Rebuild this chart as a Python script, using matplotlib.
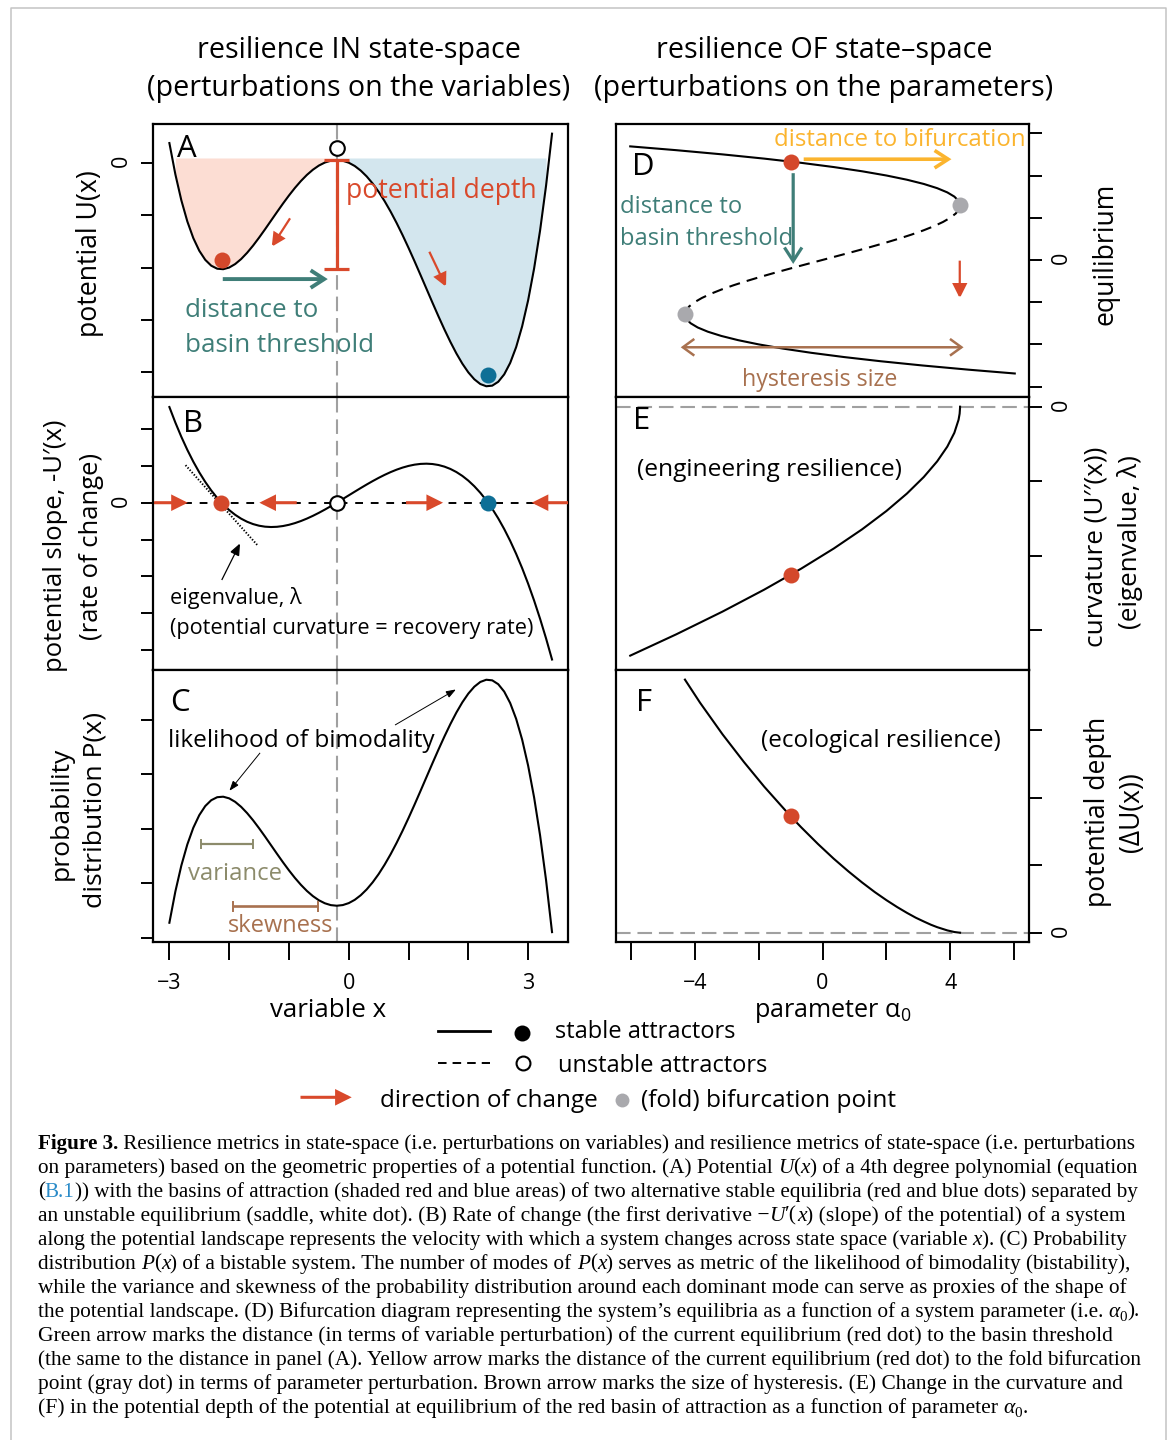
import matplotlib
matplotlib.use("Agg")
import matplotlib.pyplot as plt

plt.rcParams['font.family'] = ['Open Sans', 'DejaVu Sans']
plt.rcParams['mathtext.fontset'] = 'custom'
plt.rcParams['mathtext.rm'] = 'Open Sans'
plt.rcParams['mathtext.it'] = 'Open Sans:italic'
plt.rcParams['mathtext.bf'] = 'Open Sans:bold'

# ---------------------------------------------------------------- data
# state variable x (panels A-C)
x_state = [-3.0, -2.9, -2.8, -2.7, -2.6, -2.5, -2.4, -2.3, -2.2, -2.1,
           -2.0, -1.9, -1.8, -1.7, -1.6, -1.5, -1.4, -1.3, -1.2, -1.1,
           -1.0, -0.9, -0.8, -0.7, -0.6, -0.5, -0.4, -0.3, -0.2, -0.1,
           0.0, 0.1, 0.2, 0.3, 0.4, 0.5, 0.6, 0.7, 0.8, 0.9,
           1.0, 1.1, 1.2, 1.3, 1.4, 1.5, 1.6, 1.7, 1.8, 1.9,
           2.0, 2.1, 2.2, 2.3, 2.4, 2.5, 2.6, 2.7, 2.8, 2.9,
           3.0, 3.1, 3.2, 3.3, 3.4]
# A: potential U(x)
potential_U = [0.750, -0.443, -1.434, -2.239, -2.876, -3.359, -3.706, -3.929, -4.044, -4.063,
               -4.000, -3.867, -3.676, -3.437, -3.162, -2.859, -2.540, -2.211, -1.882, -1.559,
               -1.250, -0.961, -0.698, -0.465, -0.268, -0.109, 0.006, 0.077, 0.100, 0.075,
               0.000, -0.125, -0.300, -0.523, -0.794, -1.109, -1.468, -1.865, -2.298, -2.761,
               -3.250, -3.759, -4.282, -4.811, -5.340, -5.859, -6.362, -6.837, -7.276, -7.667,
               -8.000, -8.263, -8.444, -8.529, -8.506, -8.359, -8.076, -7.639, -7.034, -6.243,
               -5.250, -4.037, -2.586, -0.877, 1.108]
# B: rate of change -U'(x)
rate_of_change = [13.000, 10.889, 8.952, 7.183, 5.576, 4.125, 2.824, 1.667, 0.648, -0.239,
                  -1.000, -1.641, -2.168, -2.587, -2.904, -3.125, -3.256, -3.303, -3.272, -3.169,
                  -3.000, -2.771, -2.488, -2.157, -1.784, -1.375, -0.936, -0.473, 0.008, 0.501,
                  1.000, 1.499, 1.992, 2.473, 2.936, 3.375, 3.784, 4.157, 4.488, 4.771,
                  5.000, 5.169, 5.272, 5.303, 5.256, 5.125, 4.904, 4.587, 4.168, 3.641,
                  3.000, 2.239, 1.352, 0.333, -0.824, -2.125, -3.576, -5.183, -6.952, -8.889,
                  -11.000, -13.291, -15.768, -18.437, -21.304]
# C: probability distribution P(x) (arbitrary units)
probability_P = [-0.750, 0.443, 1.434, 2.239, 2.876, 3.359, 3.706, 3.929, 4.044, 4.063,
                 4.000, 3.867, 3.676, 3.437, 3.162, 2.859, 2.540, 2.211, 1.882, 1.559,
                 1.250, 0.961, 0.698, 0.465, 0.268, 0.109, -0.006, -0.077, -0.100, -0.075,
                 0.000, 0.125, 0.300, 0.523, 0.794, 1.109, 1.468, 1.865, 2.298, 2.761,
                 3.250, 3.759, 4.282, 4.811, 5.340, 5.859, 6.362, 6.837, 7.276, 7.667,
                 8.000, 8.263, 8.444, 8.529, 8.506, 8.359, 8.076, 7.639, 7.034, 6.243,
                 5.250, 4.037, 2.586, 0.877, -1.108]
equilibria_x = [-2.13, -0.20, 2.33]          # red stable, saddle, blue stable
U_saddle = 0.10
U_red_min = -4.07
basin_rim = 0.18

# D: bifurcation diagram (equilibrium vs parameter alpha0)
upper_eq = [1.291, 1.35, 1.4, 1.5, 1.6, 1.7, 1.8, 1.9, 2.0, 2.1, 2.2, 2.3, 2.4, 2.5, 2.6, 2.69]
upper_alpha = [4.303, 4.290, 4.256, 4.125, 3.904, 3.587, 3.168, 2.641, 2.000, 1.239, 0.352,
               -0.667, -1.824, -3.125, -4.576, -6.015]
middle_eq = [-1.291, -1.2, -1.1, -1.0, -0.9, -0.8, -0.7, -0.6, -0.5, -0.4, -0.3, -0.2, -0.1, 0.0,
             0.1, 0.2, 0.3, 0.4, 0.5, 0.6, 0.7, 0.8, 0.9, 1.0, 1.1, 1.2, 1.291]
middle_alpha = [-4.303, -4.272, -4.169, -4.000, -3.771, -3.488, -3.157, -2.784, -2.375, -1.936,
                -1.473, -0.992, -0.499, 0.000, 0.499, 0.992, 1.473, 1.936, 2.375, 2.784,
                3.157, 3.488, 3.771, 4.000, 4.169, 4.272, 4.303]
lower_eq = [-1.291, -1.35, -1.4, -1.5, -1.6, -1.7, -1.8, -1.9, -2.0, -2.1, -2.2, -2.3, -2.4, -2.5,
            -2.6, -2.69]
lower_alpha = [-4.303, -4.290, -4.256, -4.125, -3.904, -3.587, -3.168, -2.641, -2.000, -1.239,
               -0.352, 0.667, 1.824, 3.125, 4.576, 6.015]
fold_alpha = [4.30, -4.30]
fold_eq = [1.29, -1.29]
current_alpha = -1.0
current_eq = 2.33

# E: curvature (eigenvalue) at the red equilibrium
curv_alpha = [4.303, 4.303, 4.290, 4.256, 4.125, 3.904, 3.587, 3.168, 2.641, 2.000, 1.239,
              0.352, -0.667, -1.824, -3.125, -4.576, -6.015]
curv_lambda = [0.00, -0.07, -0.47, -0.88, -1.75, -2.68, -3.67, -4.72, -5.83, -7.00, -8.23,
               -9.52, -10.87, -12.28, -13.75, -15.28, -16.71]
current_lambda = -11.29

# F: potential depth of the red basin
depth_alpha = [-4.303, -3.831, -3.125, -2.456, -1.824, -0.999, -0.667, -0.141, 0.352, 0.812,
               1.239, 1.635, 2.000, 2.335, 2.641, 2.918, 3.168, 3.391, 3.587, 3.904, 4.125,
               4.256, 4.303]
depth_dU = [18.75, 17.04, 14.69, 12.64, 10.82, 8.63, 7.81, 6.57, 5.48, 4.54, 3.72, 3.01, 2.41,
            1.90, 1.47, 1.11, 0.83, 0.59, 0.41, 0.17, 0.05, 0.01, 0.00]
current_depth = 8.63

# ---------------------------------------------------------------- style
RED = '#D4482B'
REDA = '#D9492B'
BLUE = '#0E6F96'
GRAYDOT = '#A9A9AD'
GREEN = '#3F7E78'
YELLOW = '#FBB42E'
BROWN = '#A8714F'
OLIVE = '#8C8B6B'
PINK = '#FCDDD3'
LBLUE = '#D3E6EE'
DASHGRAY = '#A0A0A0'
LINK = '#2A8BC8'
SANS = ['Open Sans', 'DejaVu Sans']
SERIF = ['Liberation Serif', 'DejaVu Serif']
TICKFS = 15.5

W, H = 1170, 1440
fig = plt.figure(figsize=(W / 100, H / 100), dpi=100)
fig.patch.set_facecolor('white')
renderer = fig.canvas.get_renderer()


def add_ax(x0, y0, x1, y1):
    ax = fig.add_axes([x0 / W, 1 - y1 / H, (x1 - x0) / W, (y1 - y0) / H])
    for sp in ax.spines.values():
        sp.set_linewidth(1.6)
    ax.set_xticks([])
    ax.set_yticks([])
    return ax


def left_ticks(ax, ticks, labels):
    ax.set_yticks(ticks)
    ax.set_yticklabels(labels)
    ax.tick_params(axis='y', direction='out', length=8.6, width=1.4, pad=6.3,
                   labelsize=TICKFS, labelrotation=90)


def right_ticks(ax, ticks, labels):
    ax.yaxis.tick_right()
    ax.set_yticks(ticks)
    ax.set_yticklabels(labels)
    ax.tick_params(axis='y', direction='out', length=9, width=1.4, pad=6.6,
                   labelsize=TICKFS, labelrotation=90)


def bottom_ticks(ax, ticks, labels):
    ax.set_xticks(ticks)
    ax.set_xticklabels(labels)
    ax.tick_params(axis='x', direction='out', length=13, width=1.4, pad=9.6, labelsize=TICKFS)


def arrow(ax, tail, head, color, lw, style, ms, z=5):
    ax.annotate('', xy=head, xytext=tail, zorder=z, annotation_clip=False,
                arrowprops=dict(arrowstyle=style, color=color, lw=lw, shrinkA=0, shrinkB=0,
                                mutation_scale=ms, joinstyle='miter', capstyle='butt'))


FILLED = '-|>,head_length=0.6,head_width=0.3'
CHEV = '->,head_length=0.65,head_width=0.42'
VDASH = (0, (7, 3.3))

LEFT = (153, 568)
RIGHT = (616, 1029)
ROWS = [(124, 396.5), (396.5, 669.5), (669.5, 942)]
XLIM_STATE = (-3.274, 3.667)
XLIM_PAR = (-6.46, 6.46)

# ---------------------------------------------------------------- panel A
axA = add_ax(LEFT[0], ROWS[0][0], LEFT[1], ROWS[0][1])
axA.set_xlim(*XLIM_STATE)
axA.set_ylim(-8.92, 1.477)
axA.fill_between(x_state[1:29], potential_U[1:29], basin_rim, color=PINK, lw=0, zorder=1)
axA.fill_between(x_state[28:64], potential_U[28:64], basin_rim, color=LBLUE, lw=0, zorder=1)
axA.axvline(equilibria_x[1], color=DASHGRAY, lw=1.5, ls=VDASH, zorder=2)
axA.plot(x_state, potential_U, color='k', lw=1.5, zorder=3)
sx = equilibria_x[1]
axA.plot([sx, sx], [U_saddle, U_red_min], color=REDA, lw=2.3, zorder=4, solid_capstyle='butt')
for yy in (U_saddle, U_red_min):
    axA.plot([sx - 0.21, sx + 0.21], [yy, yy], color=REDA, lw=2.3, zorder=4,
             solid_capstyle='butt')
axA.plot(sx, 0.56, 'o', ms=10.5, mfc='white', mec='k', mew=1.5, zorder=6)
axA.plot(-2.124, -3.71, 'o', ms=11.5, color=RED, mew=0, zorder=6)
axA.plot(2.334, -8.10, 'o', ms=11.5, color=BLUE, mew=0, zorder=6)
arrow(axA, (-0.982, -2.122), (-1.288, -3.206), REDA, 1.6, FILLED, 13)
arrow(axA, (1.348, -3.397), (1.627, -4.733), REDA, 1.6, FILLED, 13)
arrow(axA, (-2.107, -4.44), (-0.351, -4.44), GREEN, 2.8, CHEV, 15)
left_ticks(axA, [0, -2, -4, -6, -8], ['0', '', '', '', ''])

# ---------------------------------------------------------------- panel B
axB = add_ax(LEFT[0], ROWS[1][0], LEFT[1], ROWS[1][1])
axB.set_xlim(*XLIM_STATE)
axB.set_ylim(-22.66, 14.43)
axB.axvline(sx, color=DASHGRAY, lw=1.5, ls=VDASH, zorder=1)
axB.axhline(0, color='k', lw=1.4, ls=(0, (4, 4)), zorder=2)
axB.plot(x_state, rate_of_change, color='k', lw=1.5, zorder=3)
axB.plot([-2.73, -1.53], [5.1, -5.75], color='k', lw=1.4, ls=(0, (0.7, 0.9)), zorder=3)
BSTY = '-|>,head_length=0.56,head_width=0.28'
arrow(axB, (-3.256, 0), (-2.692, 0), REDA, 2.2, BSTY, 15)
arrow(axB, (-0.870, 0), (-1.495, 0), REDA, 2.2, BSTY, 15)
arrow(axB, (0.958, 0), (1.577, 0), REDA, 2.2, BSTY, 15)
arrow(axB, (3.667, 0), (3.060, 0), REDA, 2.2, BSTY, 15)
axB.plot(equilibria_x[0], 0, 'o', ms=11.5, color=RED, mew=0, zorder=6)
axB.plot(equilibria_x[1], 0, 'o', ms=10.5, mfc='white', mec='k', mew=1.5, zorder=6)
axB.plot(equilibria_x[2], 0, 'o', ms=11.5, color=BLUE, mew=0, zorder=6)
arrow(axB, (-2.124, -10.5), (-1.818, -5.52), 'k', 0.9, '-|>,head_length=0.6,head_width=0.25', 12)
left_ticks(axB, [10, 5, 0, -5, -10, -15, -20], ['', '', '0', '', '', '', ''])

# ---------------------------------------------------------------- panel C
axC = add_ax(LEFT[0], ROWS[2][0], LEFT[1], ROWS[2][1])
axC.set_xlim(*XLIM_STATE)
axC.set_ylim(-1.485, 8.92)
axC.axvline(sx, color=DASHGRAY, lw=1.5, ls=VDASH, zorder=1)
axC.plot(x_state, probability_P, color='k', lw=1.5, zorder=3)
THIN = '-|>,head_length=0.5,head_width=0.18'
arrow(axC, (-1.483, 5.737), (-1.997, 4.286), 'k', 0.7, THIN, 12)
arrow(axC, (0.774, 6.80), (1.794, 8.16), 'k', 0.7, THIN, 12)
for (xa, xb, yy, col, lw) in [(-2.475, -1.595, 2.256, OLIVE, 1.6), (-1.940, -0.508, -0.122, BROWN, 1.9)]:
    axC.plot([xa, xb], [yy, yy], color=col, lw=lw, solid_capstyle='butt', zorder=4)
    for xe in (xa, xb):
        axC.plot([xe, xe], [yy - 0.17, yy + 0.17], color=col, lw=1.4, zorder=4)
left_ticks(axC, [7.0, 4.92, 2.84, 0.76, -1.32], ['', '', '', '', ''])
bottom_ticks(axC, [-3, -2, -1, 0, 1, 2, 3], ['\u22123', '', '', '0', '', '', '3'])

# ---------------------------------------------------------------- panel D
axD = add_ax(RIGHT[0], ROWS[0][0], RIGHT[1], ROWS[0][1])
axD.set_xlim(*XLIM_PAR)
axD.set_ylim(-3.235, 3.22)
axD.plot(upper_alpha, upper_eq, color='k', lw=1.5, zorder=3)
axD.plot(middle_alpha, middle_eq, color='k', lw=1.5, ls=(0, (5.3, 3.4)), zorder=3)
axD.plot(lower_alpha, lower_eq, color='k', lw=1.5, zorder=3)
arrow(axD, (-0.588, 2.386), (4.034, 2.386), YELLOW, 2.6, CHEV, 15)
arrow(axD, (-0.917, 2.055), (-0.917, -0.095), GREEN, 2.3, CHEV, 15)
arrow(axD, (4.294, -0.017), (4.294, -0.908), REDA, 1.6, FILLED, 14)
arrow(axD, (-4.435, -2.069), (4.413, -2.069), BROWN, 1.8, '<->,head_length=0.55,head_width=0.4', 15)
axD.plot(current_alpha, current_eq, 'o', ms=11.5, color=RED, mew=0, zorder=6)
axD.plot(fold_alpha, fold_eq, 'o', ms=11.5, color=GRAYDOT, mew=0, ls='none', zorder=6)
right_ticks(axD, [-3, -2, -1, 0, 1, 2, 3], ['', '', '', '0', '', '', ''])

# ---------------------------------------------------------------- panel E
axE = add_ax(RIGHT[0], ROWS[1][0], RIGHT[1], ROWS[1][1])
axE.set_xlim(*XLIM_PAR)
axE.set_ylim(-17.64, 0.685)
axE.axhline(0, color=DASHGRAY, lw=1.5, ls=VDASH, zorder=1)
axE.plot(curv_alpha, curv_lambda, color='k', lw=1.5, zorder=3)
axE.plot(current_alpha, current_lambda, 'o', ms=11.5, color=RED, mew=0, zorder=6)
right_ticks(axE, [0, -5, -10, -15], ['0', '', '', ''])

# ---------------------------------------------------------------- panel F
axF = add_ax(RIGHT[0], ROWS[2][0], RIGHT[1], ROWS[2][1])
axF.set_xlim(*XLIM_PAR)
axF.set_ylim(-0.69, 19.5)
axF.axhline(0, color=DASHGRAY, lw=1.5, ls=VDASH, zorder=1)
axF.plot(depth_alpha, depth_dU, color='k', lw=1.5, zorder=3)
axF.plot(current_alpha, current_depth, 'o', ms=11.5, color=RED, mew=0, zorder=6)
right_ticks(axF, [0, 5, 10, 15], ['0', '', '', ''])
bottom_ticks(axF, [-6, -4, -2, 0, 2, 4, 6], ['', '\u22124', '', '0', '', '4', ''])

# ---------------------------------------------------------------- overlay (pixel coords)
ov = fig.add_axes([0, 0, 1, 1])
ov.set_xlim(0, W)
ov.set_ylim(H, 0)
ov.axis('off')


def text_w(s, fs, **kw):
    t = ov.text(0, 0, s, fontsize=fs, **kw)
    w = t.get_window_extent(renderer).width
    t.remove()
    return w


def fit_size(s, width, **kw):
    return 20.0 * width / text_w(s, 20.0, **kw)


def put(s, x, base, fs, color='k', ha='left', **kw):
    return ov.text(x, base, s, fontsize=fs, color=color, ha=ha, va='baseline', **kw)


def put_fit(s, x0, x1, base, color='k', **kw):
    fs = fit_size(s, x1 - x0, **kw)
    put(s, x0, base, fs, color, **kw)
    return fs


def vput(s, cx, y0, y1, fs=None, color='k'):
    if fs is None:
        fs = fit_size(s, y1 - y0)
    ov.text(cx, (y0 + y1) / 2, s, fontsize=fs, color=color, rotation=90,
            rotation_mode='anchor', ha='center', va='center_baseline')
    return fs


# outer frame
ov.plot([11, 11, 1166, 1166], [1460, 8.3, 8.3, 1460], color='#C4C4C4', lw=1.1, clip_on=False)

# titles
fs_t = (fit_size('(perturbations on the variables)', 422) +
        fit_size('(perturbations on the parameters)', 456)) / 2
put('resilience IN state-space', 359, 58, fs_t, ha='center')
put('(perturbations on the variables)', 359, 96, fs_t, ha='center')
put('resilience OF state\u2013space', 824, 58, fs_t, ha='center')
put('(perturbations on the parameters)', 824, 96, fs_t, ha='center')

# panel letters
for letter, lx, lb in [('A', 176.7, 156.7), ('B', 183.3, 431.7), ('C', 170, 710.7),
                       ('D', 632, 175.3), ('E', 632.6, 429), ('F', 636.4, 711)]:
    put(letter, lx, lb, 22.4)

# annotations
put_fit('potential depth', 346, 536.7, 198.3, REDA)
fsA = fit_size('basin threshold', 188.3)
put('distance to', 185, 316.7, fsA, GREEN)
put('basin threshold', 185, 352.3, fsA, GREEN)
fsB = fit_size('(potential curvature = recovery rate)', 363.3)
put('eigenvalue, \u03bb', 170, 604.3, fsB)
put('(potential curvature = recovery rate)', 170, 634.3, fsB)
put_fit('likelihood of bimodality', 168.3, 433.3, 746.7)
put_fit('variance', 188.3, 281.7, 880, OLIVE)
put_fit('skewness', 228.3, 333.3, 931.7, BROWN)
put_fit('variable x', 270, 386, 1016.7)
put_fit('distance to bifurcation', 774.3, 1025.3, 146, YELLOW)
fsD = fit_size('basin threshold', 172.4)
put('distance to', 619.6, 213.3, fsD, GREEN)
put('basin threshold', 619.6, 245, fsD, GREEN)
put_fit('hysteresis size', 741.5, 897, 386, BROWN)
put_fit('(engineering resilience)', 636.6, 900, 475.5)
put_fit('(ecological resilience)', 761, 998.9, 746.7)
put_fit('parameter \u03b1$_0$', 754.3, 912, 1016.7)

# axis labels
vput('potential U(x)', 86, 170, 337)
fsl = vput('potential slope, -U\u2032(x)', 52, 420, 672)
vput('(rate of change)', 88, 453, 640, fsl)
fsl = fit_size('distribution P(x)', 195)
vput('probability', 58, 745, 882, fsl)
vput('distribution P(x)', 92, 713, 908, fsl)
vput('equilibrium', 1102, 183, 325)
fsl = vput('curvature (U\u2032\u2032(x))', 1093, 447, 647)
vput('(eigenvalue, \u03bb)', 1127, 455, 630, fsl)
fsl = vput('potential depth', 1095, 717, 907)
vput('(\u0394U(x))', 1129, 772, 853, fsl)

# legend
ov.plot([438, 490], [1031, 1031], color='k', lw=2)
ov.plot(521.8, 1032.7, 'o', color='k', ms=11.5, mew=0)
ov.plot([438, 490], [1063.3, 1063.3], color='k', lw=1.4, ls=(0, (4.4, 3.1)))
ov.plot(522.6, 1063.3, 'o', mfc='white', mec='k', ms=10, mew=1.5)
arrow(ov, (300.5, 1097.3), (351.7, 1097.3), REDA, 2.2, BSTY, 15)
ov.plot(622.2, 1100, 'o', color=GRAYDOT, ms=10, mew=0)
put_fit('stable attractors', 555.4, 735.7, 1038.3)
put_fit('unstable attractors', 557.9, 766.9, 1071.7)
put_fit('direction of change', 380.4, 597.6, 1106.7)
put_fit('(fold) bifurcation point', 640.7, 894.8, 1106.7)

# caption
caption_lines = [
    [('Figure 3.', 'b'), (' Resilience metrics in state-space (i.e. perturbations on variables) and resilience metrics of state-space (i.e. perturbations', 'n')],
    [('on parameters) based on the geometric properties of a potential function. (A) Potential ', 'n'), ('U', 'i'), ('(', 'n'), ('x', 'i'), (') of a 4th degree polynomial (equation', 'n')],
    [('(', 'n'), ('B.1', 'l'), (')) with the basins of attraction (shaded red and blue areas) of two alternative stable equilibria (red and blue dots) separated by', 'n')],
    [('an unstable equilibrium (saddle, white dot). (B) Rate of change (the first derivative \u2212', 'n'), ('U', 'i'), ('\u2032(', 'n'), ('x', 'i'), (') (slope) of the potential) of a system', 'n')],
    [('along the potential landscape represents the velocity with which a system changes across state space (variable ', 'n'), ('x', 'i'), ('). (C) Probability', 'n')],
    [('distribution ', 'n'), ('P', 'i'), ('(', 'n'), ('x', 'i'), (') of a bistable system. The number of modes of ', 'n'), ('P', 'i'), ('(', 'n'), ('x', 'i'), (') serves as metric of the likelihood of bimodality (bistability),', 'n')],
    [('while the variance and skewness of the probability distribution around each dominant mode can serve as proxies of the shape of', 'n')],
    [('the potential landscape. (D) Bifurcation diagram representing the system\u2019s equilibria as a function of a system parameter (i.e. ', 'n'), ('\u03b1', 'i'), ('0', 's'), (').', 'n')],
    [('Green arrow marks the distance (in terms of variable perturbation) of the current equilibrium (red dot) to the basin threshold', 'n')],
    [('(the same to the distance in panel (A). Yellow arrow marks the distance of the current equilibrium (red dot) to the fold bifurcation', 'n')],
    [('point (gray dot) in terms of parameter perturbation. Brown arrow marks the size of hysteresis. (E) Change in the curvature and', 'n')],
    [('(F) in the potential depth of the potential at equilibrium of the red basin of attraction as a function of parameter ', 'n'), ('\u03b1', 'i'), ('0', 's'), ('.', 'n')],
]
caption_right = [1136.3, 1139.3, 1140, 1125.2, 1123.7, 1131.9, 1126.3, 1137.4, 1111.5, 1140,
                 1121.5, 1026.3]
CAP_X0 = 37.8


def cap_kw(style, fs):
    kw = dict(family=SERIF, fontsize=fs, color='k')
    if style == 'b':
        kw['weight'] = 'bold'
    if style == 'i':
        kw['style'] = 'italic'
    if style == 'l':
        kw['color'] = LINK
    if style == 's':
        kw['fontsize'] = fs * 0.7
    return kw


def seg_w(s, kw):
    t1 = ov.text(0, 0, '|' + s + '|', **kw)
    w1 = t1.get_window_extent(renderer).width
    t1.remove()
    t2 = ov.text(0, 0, '||', **kw)
    w2 = t2.get_window_extent(renderer).width
    t2.remove()
    return w1 - w2


for i, (pieces, xr) in enumerate(zip(caption_lines, caption_right)):
    base = 1148.5 + 24.03 * i
    total = sum(seg_w(s, cap_kw(st, 20.0)) for s, st in pieces)
    fs = 20.0 * (xr - CAP_X0) / total
    x = CAP_X0
    for s, st in pieces:
        kw = cap_kw(st, fs)
        dy = fs * 100 / 72 * 0.18 if st == 's' else 0
        ov.text(x, base + dy, s, ha='left', va='baseline', **kw)
        x += seg_w(s, kw)

fig.savefig('out.png', dpi=100, facecolor='white')
